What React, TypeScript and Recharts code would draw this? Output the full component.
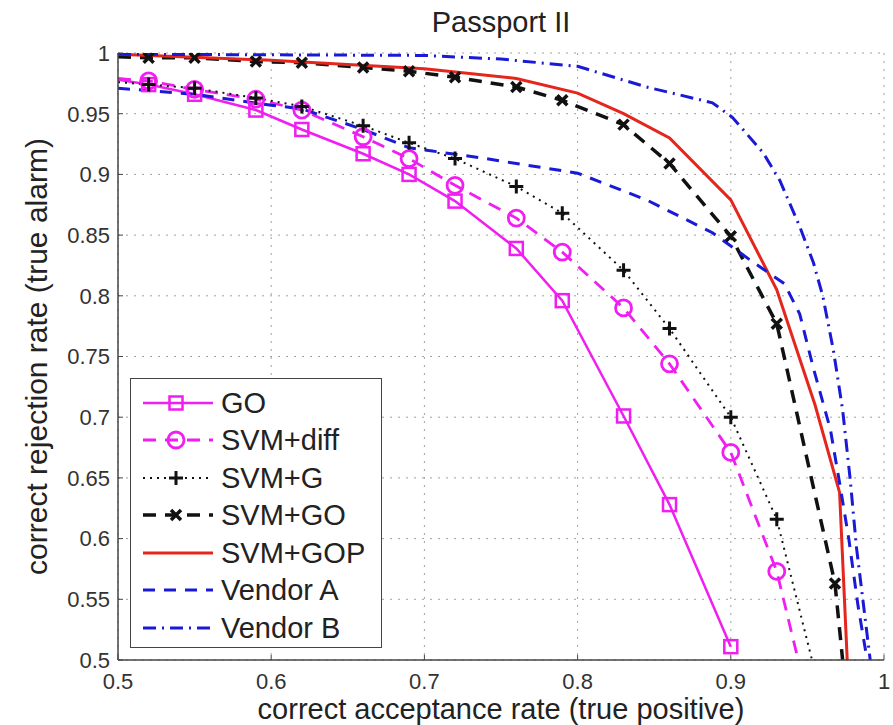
import React from "react";
import {
  LineChart,
  Line,
  XAxis,
  YAxis,
  CartesianGrid,
  Legend,
} from "recharts";

// values (x = acceptance rate, y = rejection rate)
const goPts = [
  { x: 0.5, y: 0.978 }, { x: 0.52, y: 0.974 }, { x: 0.55, y: 0.966 }, { x: 0.59, y: 0.953 },
  { x: 0.62, y: 0.937 }, { x: 0.66, y: 0.917 }, { x: 0.69, y: 0.9 }, { x: 0.72, y: 0.878 },
  { x: 0.76, y: 0.839 }, { x: 0.79, y: 0.796 }, { x: 0.83, y: 0.701 }, { x: 0.86, y: 0.628 },
  { x: 0.9, y: 0.511 },
];

const svmDiffPts = [
  { x: 0.5, y: 0.979 }, { x: 0.52, y: 0.977 }, { x: 0.55, y: 0.97 }, { x: 0.59, y: 0.962 },
  { x: 0.62, y: 0.953 }, { x: 0.66, y: 0.931 }, { x: 0.69, y: 0.913 }, { x: 0.72, y: 0.891 },
  { x: 0.76, y: 0.864 }, { x: 0.79, y: 0.836 }, { x: 0.83, y: 0.79 }, { x: 0.86, y: 0.744 },
  { x: 0.9, y: 0.671 }, { x: 0.93, y: 0.573 }, { x: 0.944, y: 0.5 },
];

const svmGPts = [
  { x: 0.5, y: 0.976 }, { x: 0.52, y: 0.974 }, { x: 0.55, y: 0.971 }, { x: 0.59, y: 0.963 },
  { x: 0.62, y: 0.956 }, { x: 0.66, y: 0.94 }, { x: 0.69, y: 0.926 }, { x: 0.72, y: 0.913 },
  { x: 0.76, y: 0.89 }, { x: 0.79, y: 0.868 }, { x: 0.83, y: 0.821 }, { x: 0.86, y: 0.773 },
  { x: 0.9, y: 0.7 }, { x: 0.93, y: 0.616 }, { x: 0.953, y: 0.5 },
];

const svmGOPts = [
  { x: 0.5, y: 0.997 }, { x: 0.52, y: 0.996 }, { x: 0.55, y: 0.996 }, { x: 0.59, y: 0.993 },
  { x: 0.62, y: 0.992 }, { x: 0.66, y: 0.988 }, { x: 0.69, y: 0.985 }, { x: 0.72, y: 0.98 },
  { x: 0.76, y: 0.972 }, { x: 0.79, y: 0.961 }, { x: 0.83, y: 0.941 }, { x: 0.86, y: 0.909 },
  { x: 0.9, y: 0.849 }, { x: 0.93, y: 0.777 }, { x: 0.968, y: 0.563 }, { x: 0.973, y: 0.5 },
];

const svmGOPPts = [
  { x: 0.5, y: 0.999 }, { x: 0.6, y: 0.994 }, { x: 0.7, y: 0.987 }, { x: 0.76, y: 0.979 },
  { x: 0.8, y: 0.967 }, { x: 0.83, y: 0.95 }, { x: 0.86, y: 0.93 }, { x: 0.9, y: 0.879 },
  { x: 0.93, y: 0.805 }, { x: 0.955, y: 0.71 }, { x: 0.971, y: 0.638 }, { x: 0.976, y: 0.5 },
];

const vendorAPts = [
  { x: 0.5, y: 0.971 }, { x: 0.55, y: 0.966 }, { x: 0.6, y: 0.957 }, { x: 0.62, y: 0.954 },
  { x: 0.66, y: 0.937 }, { x: 0.69, y: 0.922 }, { x: 0.74, y: 0.913 }, { x: 0.8, y: 0.901 },
  { x: 0.845, y: 0.879 }, { x: 0.888, y: 0.852 }, { x: 0.912, y: 0.83 }, { x: 0.935, y: 0.81 },
  { x: 0.945, y: 0.785 }, { x: 0.954, y: 0.74 }, { x: 0.965, y: 0.69 }, { x: 0.971, y: 0.646 },
  { x: 0.977, y: 0.6 }, { x: 0.983, y: 0.545 }, { x: 0.989, y: 0.5 },
];

const vendorBPts = [
  { x: 0.5, y: 0.999 }, { x: 0.7, y: 0.998 }, { x: 0.75, y: 0.995 }, { x: 0.8, y: 0.989 },
  { x: 0.845, y: 0.972 }, { x: 0.888, y: 0.959 }, { x: 0.901, y: 0.947 }, { x: 0.921, y: 0.918 },
  { x: 0.932, y: 0.895 }, { x: 0.945, y: 0.857 }, { x: 0.954, y: 0.827 }, { x: 0.96, y: 0.8 },
  { x: 0.967, y: 0.755 }, { x: 0.973, y: 0.706 }, { x: 0.978, y: 0.648 }, { x: 0.982, y: 0.593 },
  { x: 0.991, y: 0.5 },
];

const xTicks = [0.5, 0.6, 0.7, 0.8, 0.9, 1];
const yTicks = [0.5, 0.55, 0.6, 0.65, 0.7, 0.75, 0.8, 0.85, 0.9, 0.95, 1];

const FONT = "'Liberation Sans', Arial, Helvetica, sans-serif";
const MAGENTA = "#f01ef0";
const BLACK = "#111111";
const RED = "#e4261c";
const BLUE = "#1a1ad6";

type Marker = "square" | "circle" | "plus" | "cross" | "none";

const series: Array<{
  name: string;
  data: Array<{ x: number; y: number }>;
  color: string;
  width: number;
  dash?: string;
  marker: Marker;
}> = [
  { name: "GO", data: goPts, color: MAGENTA, width: 2.5, marker: "square" },
  { name: "SVM+diff", data: svmDiffPts, color: MAGENTA, width: 2.8, dash: "13 9", marker: "circle" },
  { name: "SVM+G", data: svmGPts, color: BLACK, width: 2, dash: "2 5", marker: "plus" },
  { name: "SVM+GO", data: svmGOPts, color: BLACK, width: 3.5, dash: "13 9", marker: "cross" },
  { name: "SVM+GOP", data: svmGOPPts, color: RED, width: 3, marker: "none" },
  { name: "Vendor A", data: vendorAPts, color: BLUE, width: 3, dash: "12 9", marker: "none" },
  { name: "Vendor B", data: vendorBPts, color: BLUE, width: 3, dash: "13 6 2 6", marker: "none" },
];

function MarkerShape({ kind, cx, cy, color }: { kind: Marker; cx: number; cy: number; color: string }) {
  if (kind === "square")
    return <rect x={cx - 6.5} y={cy - 6.5} width={13} height={13} fill="none" stroke={color} strokeWidth={2.5} />;
  if (kind === "circle")
    return <circle cx={cx} cy={cy} r={8} fill="none" stroke={color} strokeWidth={2.8} />;
  if (kind === "plus")
    return (
      <path d={`M${cx - 7},${cy}H${cx + 7}M${cx},${cy - 7}V${cy + 7}`} stroke={color} strokeWidth={3} />
    );
  if (kind === "cross")
    return (
      <path
        d={`M${cx - 5},${cy - 5}L${cx + 5},${cy + 5}M${cx - 5},${cy + 5}L${cx + 5},${cy - 5}`}
        stroke={color}
        strokeWidth={3.5}
      />
    );
  return null;
}

const makeDot = (kind: Marker, color: string) => (props: any) => {
  const { cx, cy, payload, index } = props;
  // end points sitting on the axes carry no marker
  if (cx == null || cy == null || payload.x <= 0.5 || payload.y <= 0.5) return <g key={index} />;
  return (
    <g key={index}>
      <MarkerShape kind={kind} cx={cx} cy={cy} color={color} />
    </g>
  );
};

const LegendBox = () => (
  <div
    style={{
      width: 252,
      height: 270,
      boxSizing: "border-box",
      border: "1.5px solid #444",
      background: "#fff",
      paddingTop: 5,
      fontFamily: FONT,
    }}
  >
    {series.map((s) => (
      <div key={s.name} style={{ display: "flex", alignItems: "center", height: 37.5 }}>
        <svg width={88} height={30} style={{ marginLeft: 10, flex: "none" }}>
          <line x1={2} x2={72} y1={15} y2={15} stroke={s.color} strokeWidth={s.width} strokeDasharray={s.dash} />
          <MarkerShape kind={s.marker} cx={35} cy={15} color={s.color} />
        </svg>
        <span style={{ fontSize: 29, color: "#222", lineHeight: "30px", marginLeft: -8 }}>{s.name}</span>
      </div>
    ))}
  </div>
);

export default function App() {
  return (
    <div
      style={{
        position: "absolute",
        left: 0,
        top: 0,
        width: 893,
        height: 725,
        background: "#fff",
        fontFamily: FONT,
      }}
    >
      <div
        style={{
          position: "absolute",
          left: 118,
          top: 8,
          width: 766,
          textAlign: "center",
          fontSize: 29,
          lineHeight: "29px",
          color: "#222",
        }}
      >
        Passport II
      </div>
      <LineChart width={893} height={725} margin={{ top: 53, right: 9, left: 0, bottom: 0 }}>
        <CartesianGrid stroke="#a0a0a0" strokeDasharray="2 6" strokeWidth={1} />
        <XAxis
          dataKey="x"
          type="number"
          domain={[0.5, 1]}
          ticks={xTicks}
          tickFormatter={(v) => String(v)}
          height={65}
          tickSize={-5}
          tickMargin={18}
          axisLine={{ stroke: "#444", strokeWidth: 1.5 }}
          tickLine={{ stroke: "#444" }}
          tick={{ fontSize: 22, fill: "#333", fontFamily: FONT }}
          allowDataOverflow
          label={{
            value: "correct acceptance rate (true positive)",
            position: "insideBottom",
            offset: 6,
            style: { fontSize: 29, fill: "#222", fontFamily: FONT },
          }}
        />
        <YAxis
          dataKey="y"
          type="number"
          domain={[0.5, 1]}
          ticks={yTicks}
          tickFormatter={(v) => String(v)}
          width={118}
          tickSize={-5}
          tickMargin={13}
          axisLine={{ stroke: "#444", strokeWidth: 1.5 }}
          tickLine={{ stroke: "#444" }}
          tick={{ fontSize: 22, fill: "#333", fontFamily: FONT }}
          allowDataOverflow
          label={{
            value: "correct rejection rate (true alarm)",
            angle: -90,
            position: "insideLeft",
            offset: 36,
            style: { fontSize: 30, fill: "#222", fontFamily: FONT, textAnchor: "middle" },
          }}
        />
        <Legend
          layout="horizontal"
          verticalAlign="middle"
          align="center"
          content={() => <LegendBox />}
          wrapperStyle={{ left: 130, top: 378, width: 252, height: 270 }}
        />
        {series.map((s) => (
          <Line
            key={s.name}
            name={s.name}
            data={s.data}
            dataKey="y"
            type="linear"
            stroke={s.color}
            strokeWidth={s.width}
            strokeDasharray={s.dash}
            dot={s.marker === "none" ? false : makeDot(s.marker, s.color)}
            activeDot={false}
            isAnimationActive={false}
          />
        ))}
      </LineChart>
    </div>
  );
}
